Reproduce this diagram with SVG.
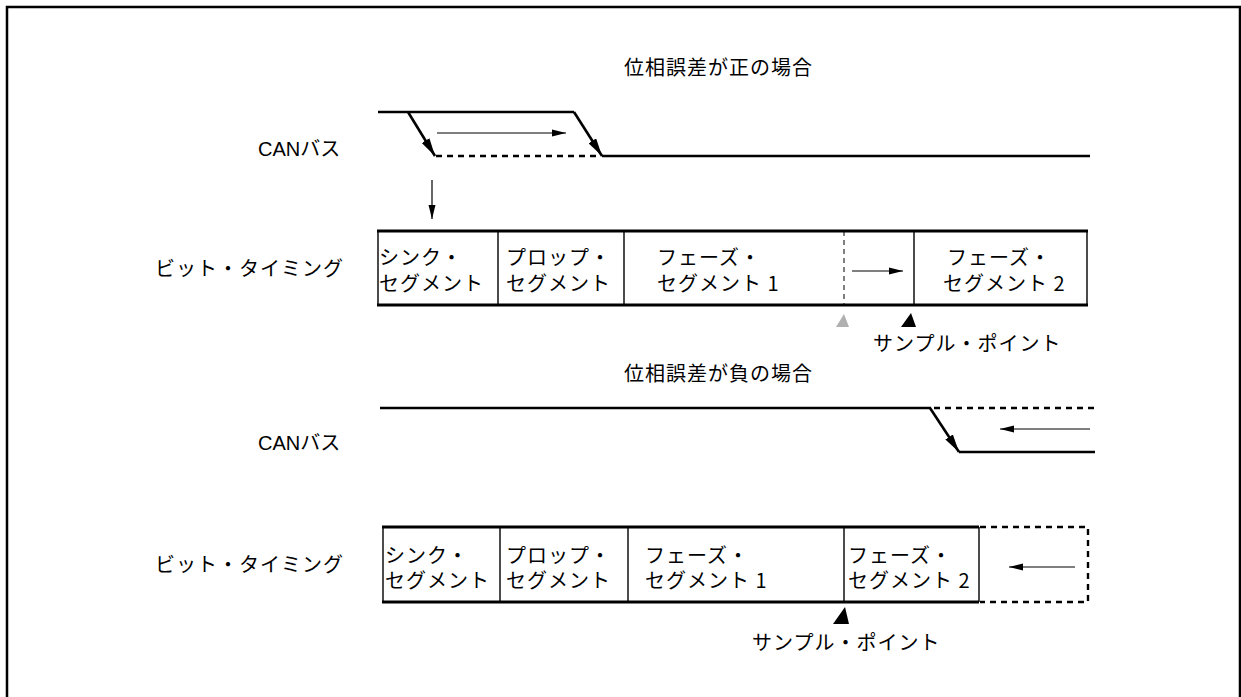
<svg xmlns="http://www.w3.org/2000/svg" width="1241" height="697" viewBox="0 0 1241 697">
<style>
text{font-family:"Noto Sans CJK JP","Noto Sans",sans-serif;font-size:20px;fill:#000;letter-spacing:1px}
.lat{font-family:"Liberation Sans","Noto Sans CJK JP",sans-serif;letter-spacing:0}
.sig{stroke:#000;stroke-width:2.6;fill:none}
.dash{stroke:#000;stroke-width:2.6;fill:none;stroke-dasharray:6,5}
.thin{stroke:#000;stroke-width:1.2;fill:none}
.hb{stroke:#000;stroke-width:2.8;fill:none}
.vb{stroke:#000;stroke-width:1.4;fill:none}
</style>
<defs>
<marker id="edge" viewBox="0 0 20 10" refX="20" refY="5" markerWidth="18" markerHeight="9" markerUnits="userSpaceOnUse" orient="auto"><path d="M0,0 L20,5 L0,10 z" fill="#000"/></marker>
<marker id="small" viewBox="0 0 14 8" refX="14" refY="4" markerWidth="14" markerHeight="8" markerUnits="userSpaceOnUse" orient="auto"><path d="M0,0.5 L14,4 L0,7.5 z" fill="#000"/></marker>
</defs>
<g id="frame"><path d="M7,700 V7 H1240 V700" stroke="#000" stroke-width="2.5" fill="none"/></g>

<g id="title-pos"><text x="624" y="75">位相誤差が正の場合</text></g>
<g id="label-can1"><text class="lat" x="258" y="156">CANバス</text></g>
<g id="label-bt1"><text x="155" y="276">ビット・タイミング</text></g>

<g id="can-bus-1">
<path class="sig" d="M378,112 H574"/>
<path class="sig" d="M602,156 H1090"/>
<path class="dash" d="M436,156 H600"/>
</g>

<g id="bit-timing-1">
<path class="hb" d="M377,231 H1088 M377,305 H1088"/>
<path class="vb" d="M378,231 V305 M498,231 V305 M624,231 V305 M914,231 V305 M1087,231 V305"/>
<path d="M844,231 V305" stroke="#000" stroke-width="1" stroke-dasharray="5,4"/>
<text x="379" y="265">シンク・</text><text x="379" y="291">セグメント</text>
<text x="506" y="265">プロップ・</text><text x="506" y="291">セグメント</text>
<text x="657" y="265">フェーズ・</text><text x="657" y="291">セグメント 1</text>
<text x="947" y="265">フェーズ・</text><text x="943" y="291">セグメント 2</text>
</g>

<g id="sample-point-1">
<path d="M844,314 L836,327 L849,327 z" fill="#b0b0b0"/>
<path d="M911,313 L901,327 L916,327 z" fill="#000"/>
<text x="873" y="351">サンプル・ポイント</text>
</g>

<g id="title-neg"><text x="624" y="381">位相誤差が負の場合</text></g>
<g id="label-can2"><text class="lat" x="258" y="450">CANバス</text></g>
<g id="label-bt2"><text x="155" y="572">ビット・タイミング</text></g>

<g id="can-bus-2">
<path class="sig" d="M380,408 H931"/>
<path class="dash" d="M934,408 H1095"/>
<path class="sig" d="M959,452 H1095"/>
</g>

<g id="bit-timing-2">
<path class="hb" d="M382,527 H979 M382,602 H979"/>
<path class="vb" d="M383,527 V602 M500,527 V602 M628,527 V602 M844,527 V602 M979,527 V602"/>
<path d="M980,527 H1088 V602 H980" stroke="#000" stroke-width="2.4" stroke-dasharray="6,5" fill="none"/>
<text x="385" y="563">シンク・</text><text x="385" y="588">セグメント</text>
<text x="506" y="563">プロップ・</text><text x="506" y="588">セグメント</text>
<text x="645" y="563">フェーズ・</text><text x="645" y="588">セグメント 1</text>
<text x="848" y="563">フェーズ・</text><text x="848" y="588">セグメント 2</text>
</g>

<g id="sample-point-2">
<path d="M845,607 L833,624 L849,624 z" fill="#000"/>
<text x="752" y="650">サンプル・ポイント</text>
</g>

<g id="connectors">
<path class="sig" d="M408,112 L435,156" marker-end="url(#edge)"/>
<path class="sig" d="M574,112 L602,156" marker-end="url(#edge)"/>
<path class="thin" stroke="#444" d="M437,133 H566" marker-end="url(#small)"/>
<path class="thin" d="M432,180 V219" marker-end="url(#small)"/>
<path class="thin" d="M852,271 H903" marker-end="url(#small)"/>
<path class="sig" d="M930,408 L959,452" marker-end="url(#edge)"/>
<path class="thin" d="M1090,429 H1000" marker-end="url(#small)"/>
<path class="thin" d="M1075,567 H1009" marker-end="url(#small)"/>
</g>
</svg>
